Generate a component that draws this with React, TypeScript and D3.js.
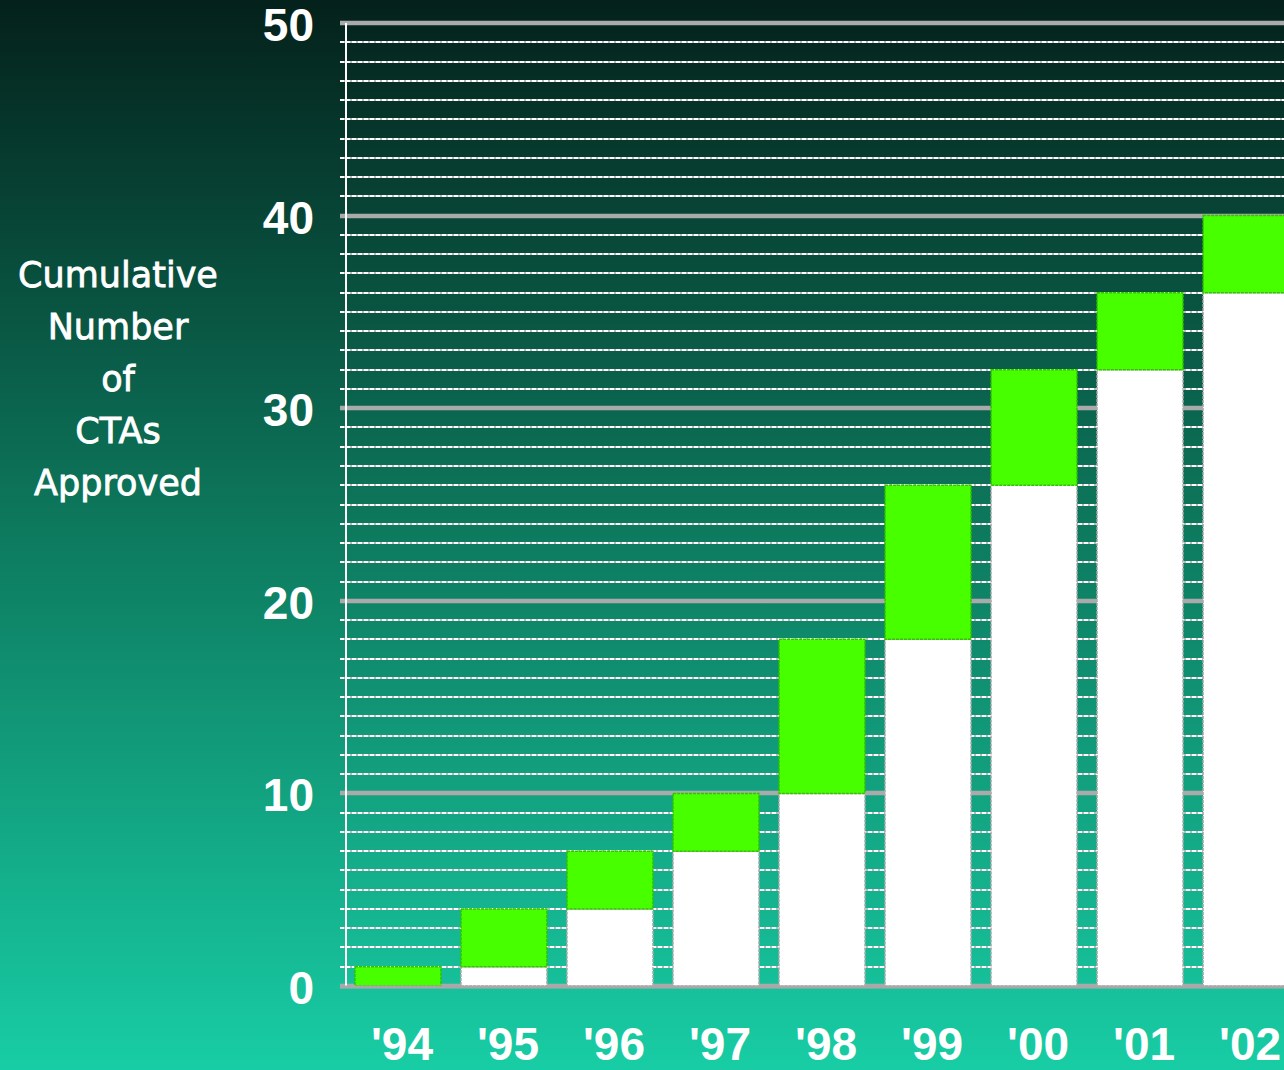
import React from "react";
import * as d3 from "d3";

const categories = ["'94", "'95", "'96", "'97", "'98", "'99", "'00", "'01", "'02"];
const priorTotal = [0, 1, 4, 7, 10, 18, 26, 32, 36];
const newApproved = [1, 3, 3, 3, 8, 8, 6, 4, 4];
const yTicks = [0, 10, 20, 30, 40, 50];
const titleLines = ["Cumulative", "Number", "of", "CTAs", "Approved"];

const W = 1284;
const H = 1070;

export default function App() {
  const y = d3.scaleLinear().domain([0, 50]).range([986, 23]);
  const x = d3
    .scaleBand<string>()
    .domain(categories)
    .range([346, 1298])
    .paddingInner(0.19)
    .paddingOuter(0.085);
  const minor = d3.range(0, 51).filter((v) => v % 10 !== 0);
  const axisX = 346;
  const font = "'Liberation Sans', Arial, sans-serif";
  const ry = (v: number) => Math.round(y(v));

  return (
    <svg
      width={W}
      height={H}
      style={{ position: "absolute", left: 0, top: 0, display: "block" }}
    >
      <defs>
        <linearGradient id="bg" x1="0" y1="0" x2="0" y2="1">
          <stop offset="0" stopColor="#04211b" />
          <stop offset="0.5" stopColor="#0d7a5e" />
          <stop offset="1" stopColor="#18cda5" />
        </linearGradient>
      </defs>
      <rect x={0} y={0} width={W} height={H} fill="url(#bg)" />

      {/* minor gridlines */}
      {minor.map((v) => (
        <g key={"m" + v}>
          <line x1={340} x2={W} y1={ry(v)} y2={ry(v)} stroke="#b8b8b8" strokeWidth={2} />
          <line
            x1={340}
            x2={W}
            y1={ry(v)}
            y2={ry(v)}
            stroke="#ffffff"
            strokeWidth={2}
            strokeDasharray="4 2"
          />
        </g>
      ))}
      {/* major gridlines */}
      {yTicks.map((v) => (
        <line
          key={"M" + v}
          x1={340}
          x2={W}
          y1={ry(v)}
          y2={ry(v)}
          stroke="#aaaaaa"
          strokeWidth={4.5}
        />
      ))}

      {/* bars */}
      {categories.map((c, i) => {
        const bx = x(c)!;
        const bw = x.bandwidth();
        const p = priorTotal[i];
        const n = newApproved[i];
        return (
          <g key={c}>
            {p > 0 && (
              <rect
                x={bx}
                y={y(p)}
                width={bw}
                height={y(0) - y(p)}
                fill="#ffffff"
                stroke="#b0b0b0"
                strokeWidth={1.5}
                strokeDasharray="3 1"
              />
            )}
            <rect
              x={bx}
              y={y(p + n)}
              width={bw}
              height={y(p) - y(p + n)}
              fill="#48ff00"
              stroke="#2fc400"
              strokeWidth={1.5}
              strokeDasharray="3 1"
            />
          </g>
        );
      })}

      {/* axis line */}
      <line x1={axisX} x2={axisX} y1={y(50)} y2={y(0)} stroke="#ffffff" strokeWidth={2} />
      <line x1={340} x2={W} y1={ry(0) + 1} y2={ry(0) + 1} stroke="#a8a8a8" strokeWidth={3} />

      {/* y tick labels */}
      {yTicks.map((v) => (
        <text
          key={"t" + v}
          x={314}
          y={y(v) + 18}
          textAnchor="end"
          fill="#ffffff"
          fontFamily={font}
          fontWeight="bold"
          fontSize={46}
        >
          {v}
        </text>
      ))}

      {/* x labels */}
      {categories.map((c) => (
        <text
          key={"x" + c}
          x={x(c)! + x.bandwidth() / 2 + 4}
          y={1060}
          textAnchor="middle"
          fill="#ffffff"
          fontFamily={font}
          fontWeight="bold"
          fontSize={46}
        >
          {c}
        </text>
      ))}

      {/* y title */}
      {titleLines.map((t, i) => (
        <text
          key={"yt" + i}
          x={118}
          y={287 + i * 52}
          textAnchor="middle"
          fill="#ffffff"
          stroke="#ffffff"
          strokeWidth={0.8}
          fontFamily="'DejaVu Sans', Verdana, sans-serif"
          fontSize={35}
        >
          {t}
        </text>
      ))}
    </svg>
  );
}
